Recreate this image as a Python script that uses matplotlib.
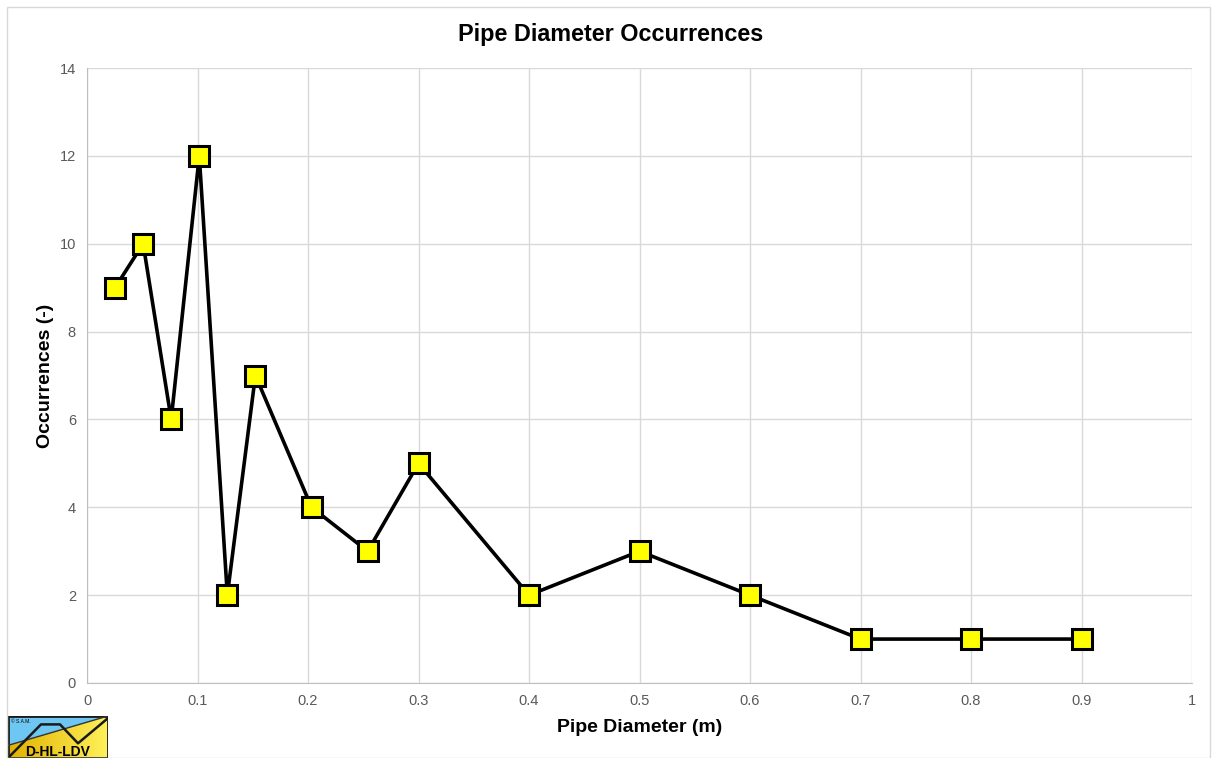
import numpy as np
import matplotlib.pyplot as plt
from matplotlib.patches import Polygon, Rectangle
from matplotlib.colors import LinearSegmentedColormap

plt.rcParams['font.family'] = ['Liberation Sans', 'DejaVu Sans']

# pipe diameters (m) and number of occurrences
diameters = [0.0254, 0.0508, 0.0762, 0.1016, 0.127, 0.1524, 0.2032, 0.254,
             0.3, 0.4, 0.5, 0.6, 0.7, 0.8, 0.9]
occurrences = [9, 10, 6, 12, 2, 7, 4, 3, 5, 2, 3, 2, 1, 1, 1]

x_ticks = [0, 0.1, 0.2, 0.3, 0.4, 0.5, 0.6, 0.7, 0.8, 0.9, 1]
x_tick_labels = ['0', '0.1', '0.2', '0.3', '0.4', '0.5', '0.6', '0.7', '0.8', '0.9', '1']
y_ticks = [0, 2, 4, 6, 8, 10, 12, 14]

W, H = 1212, 758
fig = plt.figure(figsize=(W / 100, H / 100), dpi=100)
fig.patches.append(Rectangle((7 / W, 0), 1 - 9 / W, 1 - 7 / H, transform=fig.transFigure,
                             fill=False, edgecolor='#d9d9d9', linewidth=1))

ax = fig.add_axes([87 / W, (H - 683) / H, (1192 - 87) / W, (683 - 68) / H])
ax.plot(diameters, occurrences, color='black', linewidth=2.6, marker='s',
        markersize=14, markerfacecolor='#ffff00', markeredgecolor='black',
        markeredgewidth=2.2, zorder=3)

ax.set_xlim(0, 1)
ax.set_ylim(0, 14)
ax.set_xticks(x_ticks)
ax.set_xticklabels(x_tick_labels)
ax.set_yticks(y_ticks)
ax.grid(True, color='#d9d9d9', linewidth=1)
ax.set_axisbelow(True)
ax.tick_params(length=0, labelsize=10.5, colors='#595959', pad=8)
for side in ['top', 'right']:
    ax.spines[side].set_visible(False)
ax.spines['left'].set_color('#bfbfbf')
ax.spines['bottom'].set_color('#bfbfbf')

fig.text(611 / W, 1 - 34 / H, 'Pipe Diameter Occurrences', ha='center', va='center',
         fontsize=16.8, fontweight='bold')
ax.set_xlabel('Pipe Diameter (m)', fontsize=14, fontweight='bold', labelpad=8)
ax.set_ylabel('Occurrences (-)', fontsize=14, fontweight='bold', labelpad=4)

# small logo in the lower left corner
logo = fig.add_axes([8 / W, 0, 100 / W, 42 / H])
logo.set_xlim(0, 1)
logo.set_ylim(0, 1)
logo.axis('off')
grad = np.linspace(0, 1, 100).reshape(1, -1)
logo.imshow(grad, extent=[0, 1, 0, 1], aspect='auto',
            cmap=LinearSegmentedColormap.from_list('y', ['#e2b100', '#fff15a']))
logo.add_patch(Polygon([[0, 0.3], [1, 1], [0, 1]], closed=True, facecolor='#6ec6f2', edgecolor='none'))
logo.plot([0, 1], [0.3, 1], color='#333333', linewidth=1)
logo.plot([0, 0.33, 0.52, 0.7, 1], [0, 0.8, 0.8, 0.35, 0.95], color='#1a1a1a', linewidth=1.8)
logo.add_patch(Rectangle((0, 0), 1, 1, fill=False, edgecolor='#1a1a1a', linewidth=2))
logo.text(0.5, 0.15, 'D-HL-LDV', ha='center', va='center', fontsize=10, fontweight='bold')
logo.text(0.03, 0.87, '© S.A.M.', ha='left', va='center', fontsize=3.5)

fig.savefig('out.png', dpi=100)
